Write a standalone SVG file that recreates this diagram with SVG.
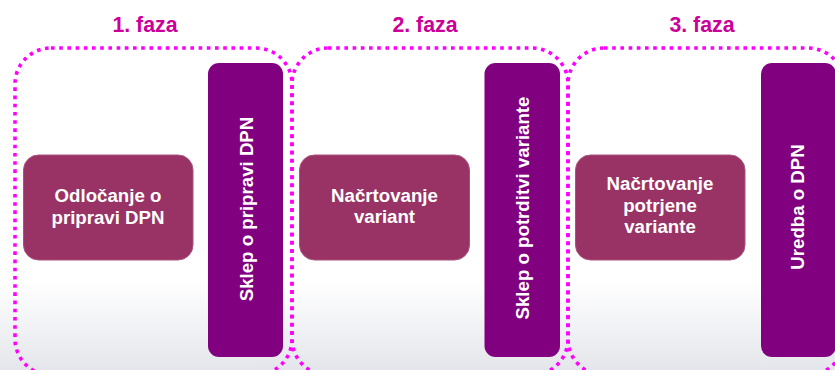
<svg xmlns="http://www.w3.org/2000/svg" width="835" height="370" viewBox="0 0 835 370">
<defs>
<linearGradient id="bg" x1="0" y1="0" x2="0" y2="1">
<stop offset="0" stop-color="#ffffff"/>
<stop offset="0.76" stop-color="#ffffff"/>
<stop offset="1" stop-color="#e4e6eb"/>
</linearGradient>
<style>
.title{font-family:"Liberation Sans",Arial,sans-serif;font-weight:bold;font-size:21.3px;fill:#CC0099;text-anchor:middle}
.lbl{font-family:"Liberation Sans",Arial,sans-serif;font-weight:bold;font-size:18.67px;fill:#ffffff;text-anchor:middle}
.box{fill:#993366;stroke:#a8527c;stroke-width:1}
.bar{fill:#800080}
.phase{fill:none;stroke:#FF00FF;stroke-width:3.6;stroke-dasharray:3.6 4.6}
</style>
</defs>
<rect x="0" y="0" width="835" height="370" fill="url(#bg)"/>

<g id="phase1-title"><text class="title" x="145" y="31.5">1. faza</text></g>
<g id="phase2-title"><text class="title" x="425" y="31.5">2. faza</text></g>
<g id="phase3-title"><text class="title" x="702" y="31.5">3. faza</text></g>

<g id="node-odlocanje">
<rect class="box" x="23.5" y="155" width="169.5" height="105" rx="15"/>
<text class="lbl" x="108" y="201.5">Odločanje o</text>
<text class="lbl" x="108" y="224">pripravi DPN</text>
</g>
<g id="node-sklep1">
<rect class="bar" x="208" y="63" width="75" height="294" rx="11"/>
<text class="lbl" transform="translate(252.5,209) rotate(-90)" x="0" y="0">Sklep o pripravi DPN</text>
</g>

<g id="node-nacrtovanje">
<rect class="box" x="299.5" y="155" width="170" height="105" rx="15"/>
<text class="lbl" x="384.5" y="201.5">Načrtovanje</text>
<text class="lbl" x="384.5" y="223">variant</text>
</g>
<g id="node-sklep2">
<rect class="bar" x="484.5" y="63" width="75.5" height="294" rx="11"/>
<text class="lbl" transform="translate(528.5,208) rotate(-90)" x="0" y="0">Sklep o potrditvi variante</text>
</g>

<g id="node-nacrtovanje-potrjene">
<rect class="box" x="575.5" y="155" width="169.5" height="105" rx="15"/>
<text class="lbl" x="660" y="190">Načrtovanje</text>
<text class="lbl" x="660" y="211.5">potrjene</text>
<text class="lbl" x="660" y="233">variante</text>
</g>
<g id="node-uredba">
<rect class="bar" x="761" y="63" width="75" height="294" rx="11"/>
<text class="lbl" transform="translate(804,207) rotate(-90)" x="0" y="0">Uredba o DPN</text>
</g>

<g id="phases">
<rect class="phase" x="15" y="48" width="277" height="327" rx="36"/>
<rect class="phase" x="292" y="48" width="276" height="327" rx="36"/>
<rect class="phase" x="568" y="48" width="276" height="327" rx="36"/>
</g>
<g id="connectors"></g>
</svg>
